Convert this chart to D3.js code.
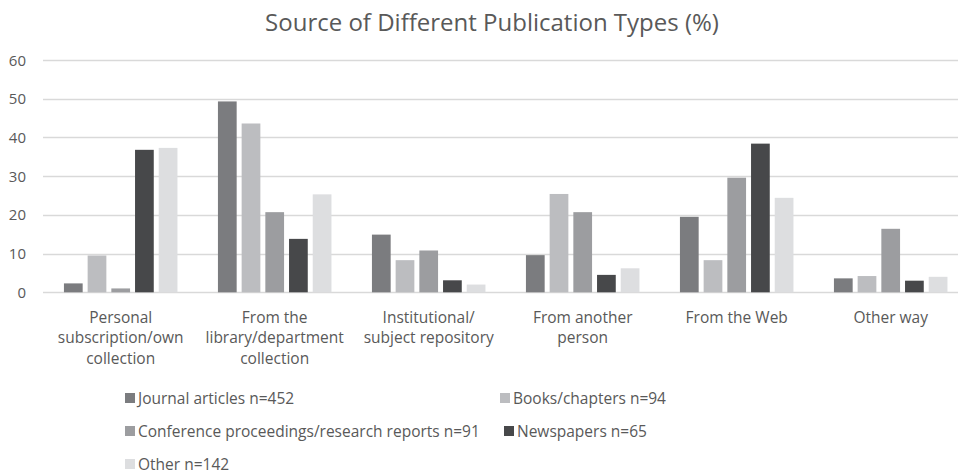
<!DOCTYPE html>
<html>
<head>
<meta charset="utf-8">
<script src="https://cdn.jsdelivr.net/npm/d3@7"></script>
<style>
  body { margin: 0; background: #fff; }
  text { font-family: "Open Sans", sans-serif; fill: #595959; }
</style>
</head>
<body>
<script>
var width = 958,
    height = 476;

// data
var categories = [
  "Personal subscription/own collection",
  "From the library/department collection",
  "Institutional/ subject repository",
  "From another person",
  "From the Web",
  "Other way"
];
var categoryLines = [
  ["Personal", "subscription/own", "collection"],
  ["From the", "library/department", "collection"],
  ["Institutional/", "subject repository"],
  ["From another", "person"],
  ["From the Web"],
  ["Other way"]
];
var seriesNames = [
  "Journal articles n=452",
  "Books/chapters n=94",
  "Conference proceedings/research reports n=91",
  "Newspapers n=65",
  "Other n=142"
];
var journalValues    = [2.3, 49.3, 14.9, 9.6, 19.5, 3.6];
var booksValues      = [9.5, 43.6, 8.3, 25.4, 8.3, 4.2];
var conferenceValues = [1.0, 20.7, 10.8, 20.7, 29.6, 16.4];
var newspaperValues  = [36.8, 13.8, 3.1, 4.5, 38.4, 3.0];
var otherValues      = [37.3, 25.3, 2.0, 6.2, 24.4, 4.0];
var yTicks = [0, 10, 20, 30, 40, 50, 60];

var seriesValues = [journalValues, booksValues, conferenceValues, newspaperValues, otherValues];
var colors = ["#7b7c7f", "#bcbdc0", "#9c9da0", "#47484a", "#dddee0"];

var svg = d3.select("body").append("svg")
    .attr("width", width)
    .attr("height", height);

// plot area runs a bit past the right edge (picture is cropped there)
var x0 = d3.scaleBand()
    .domain(categories)
    .range([43.7, 967.7]);
var x1 = d3.scaleBand()
    .domain(seriesNames)
    .range([0, x0.bandwidth()])
    .paddingInner(0.21)
    .paddingOuter(0.854);
var y = d3.scaleLinear()
    .domain([0, 60])
    .range([292.3, 60]);

svg.append("text")
    .attr("x", 492)
    .attr("y", 31)
    .attr("text-anchor", "middle")
    .attr("font-size", "24px")
    .text("Source of Different Publication Types (%)");

// gridlines
svg.append("g")
    .selectAll("line")
    .data(yTicks)
    .enter()
    .append("line")
    .attr("x1", 43)
    .attr("x2", width)
    .attr("y1", function(d) { return Math.round(y(d)) + 0.5; })
    .attr("y2", function(d) { return Math.round(y(d)) + 0.5; })
    .attr("stroke", "#d9d9d9")
    .attr("stroke-width", 1.5);

// y labels
svg.append("g")
    .selectAll("text")
    .data(yTicks)
    .enter()
    .append("text")
    .attr("x", 26)
    .attr("y", function(d) { return y(d) + 5.5; })
    .attr("text-anchor", "end")
    .attr("font-size", "15px")
    .text(function(d) { return d; });

// bars
var groups = svg.append("g")
    .selectAll("g")
    .data(categories)
    .enter()
    .append("g")
    .attr("transform", function(d) { return "translate(" + x0(d) + ",0)"; });

groups.selectAll("rect")
    .data(function(d, i) {
      return seriesNames.map(function(s, j) { return {s: s, v: seriesValues[j][i], c: colors[j]}; });
    })
    .enter()
    .append("rect")
    .attr("x", function(d) { return x1(d.s); })
    .attr("width", x1.bandwidth())
    .attr("y", function(d) { return y(d.v); })
    .attr("height", function(d) { return y(0) - y(d.v); })
    .attr("fill", function(d) { return d.c; });

// category labels
groups.each(function(d, i) {
  var t = d3.select(this).append("text")
      .attr("text-anchor", "middle")
      .attr("font-size", "15.5px");
  categoryLines[i].forEach(function(line, k) {
    t.append("tspan")
        .attr("x", x0.bandwidth() / 2)
        .attr("y", 322.5 + k * 20.5)
        .text(line);
  });
});

// legend
var legendPos = [[125, 398], [500, 398], [125, 431], [504, 431], [125, 464]];
var legend = svg.append("g")
    .selectAll("g")
    .data(seriesNames)
    .enter()
    .append("g")
    .attr("transform", function(d, i) { return "translate(" + legendPos[i][0] + "," + legendPos[i][1] + ")"; });
legend.append("rect")
    .attr("x", 0)
    .attr("y", -5)
    .attr("width", 10)
    .attr("height", 10)
    .attr("fill", function(d, i) { return colors[i]; });
legend.append("text")
    .attr("x", 13)
    .attr("y", 5.5)
    .attr("font-size", "15.5px")
    .text(function(d) { return d; });
</script>
</body>
</html>
